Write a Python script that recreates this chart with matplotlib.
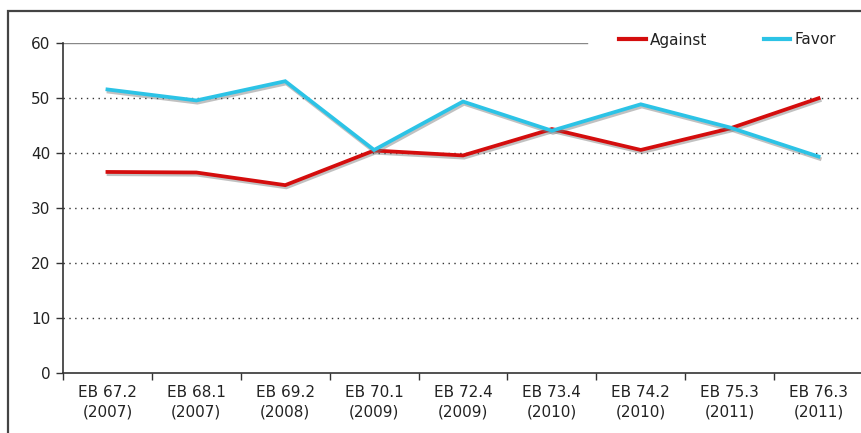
import matplotlib
matplotlib.use("Agg")
import matplotlib.pyplot as plt
import matplotlib.patheffects as pe
from matplotlib.patches import Rectangle
from matplotlib.lines import Line2D

# Survey waves and their years
waves = ["EB 67.2", "EB 68.1", "EB 69.2", "EB 70.1", "EB 72.4",
         "EB 73.4", "EB 74.2", "EB 75.3", "EB 76.3"]
years = ["2007", "2007", "2008", "2009", "2009", "2010", "2010", "2011", "2011"]

# Shares of respondents (%)
against = [36.5, 36.4, 34.1, 40.4, 39.5, 44.3, 40.5, 44.4, 49.9]
favor = [51.5, 49.5, 53.0, 40.5, 49.3, 44.0, 48.8, 44.6, 39.3]

y_ticks = [0, 10, 20, 30, 40, 50, 60]

AGAINST_COLOR = "#d40d0d"
FAVOR_COLOR = "#2cc3e6"
TEXT_COLOR = "#222222"
FS = 11

plt.rcParams["font.family"] = "DejaVu Sans"

fig = plt.figure(figsize=(8.62, 4.33), dpi=100)
ax = fig.add_axes([63 / 862, 60.3 / 433, 800 / 862, 330 / 433])

x = list(range(1, len(waves) + 1))

shadow = [pe.SimpleLineShadow(offset=(0.8, -1.6), shadow_color="#777777", alpha=0.45),
          pe.Normal()]

ax.plot(x, against, color=AGAINST_COLOR, lw=2.7, solid_joinstyle="miter",
        path_effects=shadow, zorder=4)
ax.plot(x, favor, color=FAVOR_COLOR, lw=2.7, solid_joinstyle="miter",
        path_effects=shadow, zorder=5)

ax.set_xlim(0.5, len(waves) + 0.5)
ax.set_ylim(0, 60)

# Dotted gridlines; the top one is a plain grey rule that stops before the legend
for v in y_ticks[1:-1]:
    ax.axhline(v, color="#333333", lw=1.0, linestyle=(0, (1, 3.2)), zorder=1)
ax.axhline(60, xmin=0, xmax=(587 - 63) / 800, color="#888888", lw=1.0, zorder=1)

for side in ("top", "right"):
    ax.spines[side].set_visible(False)
for side in ("left", "bottom"):
    ax.spines[side].set_color("#333333")
    ax.spines[side].set_linewidth(1.2)

ax.set_yticks(y_ticks)
ax.set_yticklabels([str(v) for v in y_ticks])
ax.tick_params(axis="y", direction="out", length=5, width=1, color="#333333",
               pad=4, labelsize=FS, labelcolor=TEXT_COLOR)

ax.set_xticks(x)
ax.set_xticklabels([f"{w}\n({yr})" for w, yr in zip(waves, years)],
                   linespacing=1.35)
ax.tick_params(axis="x", which="major", length=0, pad=9, labelsize=FS,
               labelcolor=TEXT_COLOR)
ax.set_xticks([i + 0.5 for i in range(len(waves))], minor=True)
ax.tick_params(axis="x", which="minor", direction="out", length=5, width=1,
               color="#333333")

handles = [Line2D([], [], color=AGAINST_COLOR, lw=3),
           Line2D([], [], color=FAVOR_COLOR, lw=3)]
leg = fig.legend(handles, ["Against", "Favor"], ncol=2, loc="center left",
                 bbox_to_anchor=(613 / 862, 1 - 40 / 433), frameon=False,
                 fontsize=FS, handlelength=1.75, handletextpad=0.25,
                 columnspacing=3.7, borderaxespad=0)
for t in leg.get_texts():
    t.set_color(TEXT_COLOR)

# Outer frame around the chart
fig.patches.append(Rectangle((8 / 862, -0.1), 1.2, 1 - 11 / 433 + 0.1,
                             transform=fig.transFigure, fill=False,
                             edgecolor="#444444", lw=1.6, zorder=0))

fig.savefig("out.png", dpi=100, facecolor="white")
